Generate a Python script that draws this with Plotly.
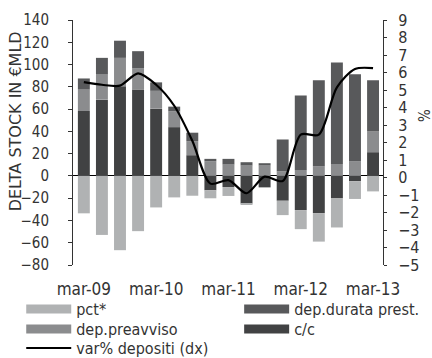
import plotly.graph_objects as go

quarters = ["mar-09", "giu-09", "set-09", "dic-09", "mar-10", "giu-10", "set-10", "dic-10",
            "mar-11", "giu-11", "set-11", "dic-11", "mar-12", "giu-12", "set-12", "dic-12", "mar-13"]
tick_labels = ["mar-09", "mar-10", "mar-11", "mar-12", "mar-13"]

cc = [58.3, 68.5, 80.5, 77.5, 60.4, 43.8, 18.6, -12.9, -10.0, -24.7, -10.3, -22.3, -30.7, -33.4, -20.2, -4.8, 21.3]
dep_preavviso = [19.2, 22.5, 25.5, 19.0, 16.0, 14.2, 12.6, 13.2, 10.2, 9.3, 9.3, 4.1, 5.4, 8.7, 10.8, 13.2, 18.6]
dep_durata = [10.0, 15.0, 15.4, 15.5, 7.6, 4.2, 7.6, 2.1, 5.1, 3.0, 2.1, 28.6, 66.9, 77.2, 91.1, 78.1, 46.0]
pct = [-33.6, -53.0, -66.7, -49.6, -28.3, -19.3, -17.8, -7.2, -8.0, -1.0, 0.0, -12.9, -17.1, -25.6, -26.1, -15.9, -13.9]
var_depositi = [5.45, 5.3, 5.25, 5.95, 5.3, 4.1, 2.1, -0.35, -0.15, -0.9, 0.05, -0.2, 2.45, 2.45, 5.15, 6.2, 6.25]

C_PCT = "#b0b2b3"
C_PREAV = "#8b8c8e"
C_DUR = "#58595b"
C_CC = "#414243"

FONT = "DejaVu Sans Condensed, Liberation Sans Narrow, Roboto Condensed, DejaVu Sans, sans-serif"
TXT = "#333333"

fig = go.Figure()

# stacked bars (stack order: c/c, preavviso, durata, pct)
for name, vals, col in [("c/c", cc, C_CC), ("dep.preavviso", dep_preavviso, C_PREAV),
                        ("dep.durata prest.", dep_durata, C_DUR), ("pct*", pct, C_PCT)]:
    fig.add_trace(go.Bar(x=quarters, y=vals, name=name, marker=dict(color=col, line=dict(width=0)),
                         showlegend=False, yaxis="y"))

fig.add_trace(go.Scatter(x=quarters, y=var_depositi, mode="lines",
                         line=dict(color="black", width=2.2, shape="spline", smoothing=0.8),
                         showlegend=False, yaxis="y2"))

# legend entries: one small legend per entry, placed in two columns
legend_items = [("pct*", C_PCT, 9, "legend"), ("dep.durata prest.", C_DUR, 9, "legend2"),
                ("dep.preavviso", C_PREAV, 9, "legend3"), ("c/c", C_CC, 9, "legend4"),
                ("var% depositi (dx)", "black", 2, "legend5")]
for name, col, w, lg in legend_items:
    fig.add_trace(go.Scatter(x=[None], y=[None], mode="lines", name=name, line=dict(color=col, width=w),
                             showlegend=True, legend=lg, yaxis="y"))

col1_x = -0.167
col2_x = 0.536
row_y = [-0.18, -0.262, -0.339]


def leg(x, y):
    return dict(x=x, xanchor="left", y=y, yanchor="middle", itemwidth=45,
                font=dict(size=16, color=TXT, family=FONT), bgcolor="rgba(0,0,0,0)",
                borderwidth=0, orientation="v")


fig.update_layout(
    width=432, height=358,
    margin=dict(l=73, r=49, t=20, b=93, autoexpand=False),
    paper_bgcolor="white", plot_bgcolor="white",
    barmode="relative", bargap=0.34,
    font=dict(family=FONT, color=TXT, size=15),
    xaxis=dict(type="category", range=[-0.6, 16.55], tickvals=tick_labels, ticktext=tick_labels,
               showgrid=False, showline=False, ticks="", ticklabelstandoff=12,
               tickfont=dict(size=17, color=TXT)),
    yaxis=dict(range=[-80, 140], dtick=20, showgrid=False, showline=True, linecolor="#333", linewidth=1,
               ticks="outside", ticklen=4, tickcolor="#333", ticklabelstandoff=16,
               zeroline=True, zerolinecolor="black", zerolinewidth=1,
               tickfont=dict(size=15, color=TXT)),
    yaxis2=dict(range=[-5, 9], dtick=1, overlaying="y", side="right", showgrid=False, showline=True,
                linecolor="#333", linewidth=1, ticks="outside", ticklen=3, tickcolor="#333", zeroline=False,
                ticklabelstandoff=8, tickfont=dict(size=16, color=TXT)),
    legend=leg(col1_x, row_y[0]),
    legend2=leg(col2_x, row_y[0]),
    legend3=leg(col1_x, row_y[1]),
    legend4=leg(col2_x, row_y[1]),
    legend5=leg(col1_x, row_y[2]),
    annotations=[
        dict(text="DELTA STOCK IN €MLD", textangle=-90, xref="paper", yref="paper",
             x=-0.185, y=0.585, xanchor="center", yanchor="middle", showarrow=False,
             font=dict(size=16, color=TXT, family="DejaVu Sans, sans-serif")),
        dict(text="%", textangle=90, xref="paper", yref="paper", x=1.13, y=0.61,
             xanchor="center", yanchor="middle", showarrow=False, font=dict(size=15, color=TXT)),
    ],
)

fig.write_html("out.html", config={"displayModeBar": False},
               post_script="document.body.style.margin='0px';")
